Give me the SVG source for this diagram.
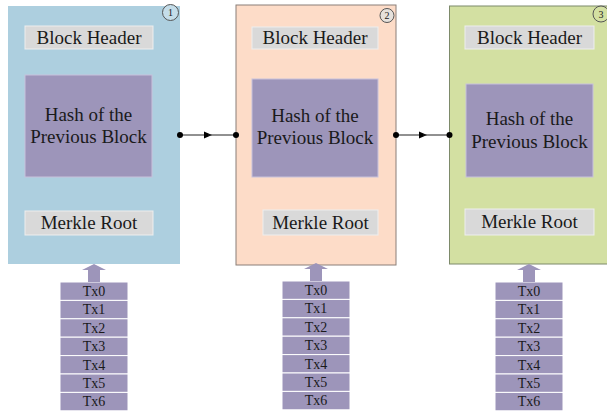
<svg xmlns="http://www.w3.org/2000/svg" width="607" height="411" viewBox="0 0 607 411">
<style>
text{font-family:"Liberation Serif","Times New Roman",serif;fill:#1a1a1a;text-anchor:middle}
.big{font-size:19px}
.tx{font-size:14px}
.gray{fill:#d9d9d9;stroke:#eeeeee;stroke-width:1}
.hash{fill:#9d95ba;stroke:#c8c2dc;stroke-width:1}
.txr{fill:#9d95ba;stroke:#ffffff;stroke-width:1}
.up{fill:#9d95ba}
.num{stroke:#555;stroke-width:1}
.conn{stroke:#222;stroke-width:1;fill:none}
.dot{fill:#000}
</style>
<defs>
<marker id="ah" markerWidth="8" markerHeight="8" refX="4" refY="4" orient="auto" markerUnits="userSpaceOnUse">
<path d="M0,0.5 L8,4 L0,7.5 Z" fill="#000"/>
</marker>
<g id="txstack">
<rect class="txr" x="0" y="0" width="68" height="18.4"/>
<rect class="txr" x="0" y="18.4" width="68" height="18.4"/>
<rect class="txr" x="0" y="36.8" width="68" height="18.4"/>
<rect class="txr" x="0" y="55.2" width="68" height="18.4"/>
<rect class="txr" x="0" y="73.6" width="68" height="18.4"/>
<rect class="txr" x="0" y="92" width="68" height="18.4"/>
<rect class="txr" x="0" y="110.4" width="68" height="18.4"/>
<text class="tx" x="34" y="14">Tx0</text>
<text class="tx" x="34" y="32.4">Tx1</text>
<text class="tx" x="34" y="50.8">Tx2</text>
<text class="tx" x="34" y="69.2">Tx3</text>
<text class="tx" x="34" y="87.6">Tx4</text>
<text class="tx" x="34" y="106">Tx5</text>
<text class="tx" x="34" y="124.4">Tx6</text>
<path class="up" d="M28,0 L28,-12 L22,-12 L34,-18 L46,-12 L40,-12 L40,0 Z"/>
</g>
</defs>
<rect width="607" height="411" fill="#ffffff"/>

<g id="block1">
<rect x="8" y="6" width="172" height="258" fill="#adcfdf"/>
<circle class="num" cx="170.5" cy="12.5" r="8" fill="#c4dde9"/>
<text x="170.5" y="16" font-size="10">1</text>
<rect class="gray" x="25" y="26" width="128" height="23"/>
<text class="big" x="89" y="44">Block Header</text>
<rect class="hash" x="25" y="75" width="127" height="102"/>
<text class="big" x="88.5" y="121">Hash of the</text>
<text class="big" x="88.5" y="143">Previous Block</text>
<rect class="gray" x="25" y="211" width="128" height="24"/>
<text class="big" x="89" y="229">Merkle Root</text>
</g>

<g id="block2">
<rect x="236" y="5" width="160" height="260" fill="#fddcc8" stroke="#8a7f78" stroke-width="1"/>
<circle class="num" cx="387" cy="15.5" r="7" fill="#e6e1dc"/>
<text x="387" y="19" font-size="10">2</text>
<rect class="gray" x="252" y="27" width="126" height="22"/>
<text class="big" x="315" y="44">Block Header</text>
<rect class="hash" x="252" y="79" width="126" height="98"/>
<text class="big" x="315" y="122">Hash of the</text>
<text class="big" x="315" y="144">Previous Block</text>
<rect class="gray" x="263" y="210" width="115" height="25"/>
<text class="big" x="320.5" y="229">Merkle Root</text>
</g>

<g id="block3">
<rect x="449.5" y="6" width="170" height="258" fill="#d3e0a2" stroke="#7d8a6a" stroke-width="1"/>
<circle class="num" cx="601" cy="14" r="8" fill="#d3e0a2"/>
<text x="601" y="17.5" font-size="10">3</text>
<rect class="gray" x="465" y="26" width="129" height="23"/>
<text class="big" x="529.5" y="44">Block Header</text>
<rect class="hash" x="466" y="84" width="127" height="93"/>
<text class="big" x="529.5" y="125">Hash of the</text>
<text class="big" x="529.5" y="148">Previous Block</text>
<rect class="gray" x="465" y="209" width="129" height="26"/>
<text class="big" x="529.5" y="228">Merkle Root</text>
</g>

<g id="tx1"><use href="#txstack" x="60" y="282"/></g>
<g id="tx2"><use href="#txstack" x="282" y="281"/></g>
<g id="tx3"><use href="#txstack" x="495" y="282"/></g>

<g id="connectors">
<line class="conn" x1="180" y1="135" x2="208" y2="135" marker-end="url(#ah)"/>
<line class="conn" x1="208" y1="135" x2="236" y2="135"/>
<circle class="dot" cx="180" cy="135" r="3"/>
<circle class="dot" cx="236" cy="135" r="3"/>
<line class="conn" x1="396" y1="135" x2="423" y2="135" marker-end="url(#ah)"/>
<line class="conn" x1="423" y1="135" x2="449.5" y2="135"/>
<circle class="dot" cx="396" cy="135" r="3"/>
<circle class="dot" cx="449.5" cy="135" r="3"/>
</g>
</svg>
